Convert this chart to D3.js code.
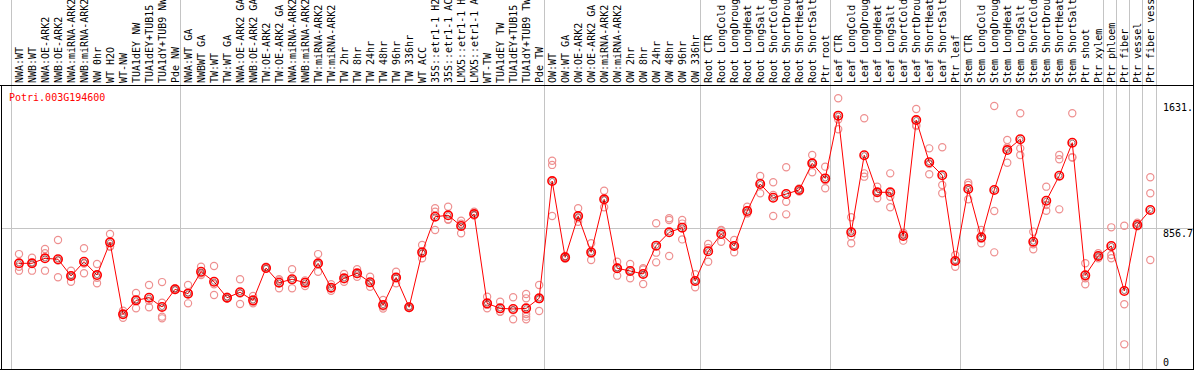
<!DOCTYPE html>
<meta charset="utf-8">
<head>
    <title>Potri.003G194600 expression</title>
    <script src="https://d3js.org/d3.v7.min.js"></script>
    <style>
        body { margin: 0; background: #fff; }
        svg { display: block; }
        text { font-family: "DejaVu Sans Mono", monospace; font-size: 10px; }
    </style>
</head>

<body>
    <div id="svg-container"></div>
</body>

<script>

const width = 1194;
const height = 370;

const geneName = "Potri.003G194600";

const labels = [
    "NWA:WT", "NWB:WT", "NWA:OE-ARK2", "NWB:OE-ARK2", "NWA:miRNA-ARK2", "NWB:miRNA-ARK2",
    "NW 0hr", "WT H2O", "WT-NW", "TUA1dEY NW", "TUA1dEY+TUB15 NW", "TUA1dY+TUB9 NW", "Pde NW",
    "NWA:WT GA", "NWBWT GA", "TW:WT", "TW:WT GA", "NWA:OE-ARK2 GA", "NWB:OE-ARK2 GA",
    "TW:OE-ARK2", "TW:OE-ARK2 GA", "NWA:miRNA-ARK2", "NWB:miRNA-ARK2", "TW:miRNA-ARK2",
    "TW:miRNA-ARK2", "TW 2hr", "TW 8hr", "TW 24hr", "TW 48hr", "TW 96hr", "TW 336hr", "WT ACC",
    "35S::etr1-1 H2O", "35S::etr1-1 ACC", "LMX5::etr1-1 H2O", "LMX5::etr1-1 ACC", "WT-TW",
    "TUA1dEY TW", "TUA1dEY+TUB15 TW", "TUA1dY+TUB9 TW", "Pde TW",
    "OW:WT", "OW:WT GA", "OW:OE-ARK2", "OW:OE-ARK2 GA", "OW:miRNA-ARK2", "OW:miRNA-ARK2",
    "OW 2hr", "OW 8hr", "OW 24hr", "OW 48hr", "OW 96hr", "OW 336hr",
    "Root CTR", "Root LongCold", "Root LongDrought", "Root LongHeat", "Root LongSalt",
    "Root ShortCold", "Root ShortDrought", "Root ShortHeat", "Root ShortSalt", "Ptr root",
    "Leaf CTR", "Leaf LongCold", "Leaf LongDrought", "Leaf LongHeat", "Leaf LongSalt",
    "Leaf ShortCold", "Leaf ShortDrought", "Leaf ShortHeat", "Leaf ShortSalt", "Ptr leaf",
    "Stem CTR", "Stem LongCold", "Stem LongDrought", "Stem LongHeat", "Stem LongSalt",
    "Stem ShortCold", "Stem ShortDrought", "Stem ShortHeat", "Stem ShortSalt", "Ptr shoot",
    "Ptr xylem", "Ptr phloem", "Ptr fiber", "Ptr vessel", "Ptr fiber vessel"
];

// first sample index of each group, last entry closes the final group
const groupStarts = [0, 13, 41, 53, 63, 73, 84, 85, 86, 87, 88];

const means = [
    631, 631, 663, 657, 550, 641, 556, 765, 305, 394, 411, 352, 465,
    437, 577, 513, 411, 446, 394, 601, 507, 529, 507, 631, 475, 535, 567, 510, 364, 540,
    350, 701, 929, 938, 870, 946, 375, 343, 339, 343, 407,
    1157, 669, 933, 701, 1040, 599, 582, 563, 744, 829, 859, 518,
    708, 818, 742, 965, 1138, 1050, 1074, 1100, 1270, 1174,
    1575, 829, 1322, 1085, 1085, 806, 1547, 1277, 1194, 646,
    1106, 797, 1100, 1355, 1424, 769, 1031, 1191, 1402, 554, 678,
    742, 454, 876, 972
];

const replicates = [
    [690, 609, 584], [667, 584, 633], [722, 695, 584], [780, 542, 649], [584, 513, 553],
    [727, 567, 629], [627, 503, 538], [818, 737, 740], [328, 283, 304], [441, 343, 398],
    [492, 350, 391], [511, 379, 290, 279], [460, 465, 470],
    [492, 375, 444], [609, 556, 566], [614, 428, 497], [405, 411, 418], [529, 371, 438],
    [422, 375, 385], [609, 597, 597], [529, 471, 521], [593, 471, 523], [513, 486, 522],
    [690, 577, 626], [497, 456, 472], [563, 513, 529], [593, 545, 563], [545, 481, 504],
    [396, 354, 342], [577, 503, 540], [345, 350, 355], [748, 663, 692], [983, 961, 844],
    [993, 912, 909], [903, 823, 884], [961, 940, 937], [417, 343, 365], [386, 322, 321],
    [414, 273, 330], [435, 407, 307, 290, 273], [492, 326, 403],
    [1287, 1260, 933], [660, 669, 678], [983, 897, 919], [759, 652, 692], [1095, 989, 1036],
    [641, 552, 604], [627, 535, 584], [599, 499, 591], [887, 699, 637], [919, 908, 678],
    [908, 784, 885], [561, 478, 515],
    [754, 641, 729], [844, 769, 841], [780, 701, 745], [993, 950, 952], [1189, 1079, 1146],
    [1149, 933, 1068], [1245, 1025, 944], [1090, 1100, 1110], [1323, 1213, 1274], [1249, 1111, 1162],
    [1686, 1488, 1551], [925, 759, 803], [1558, 1206, 1185], [1121, 1047, 1087], [1206, 1057, 989],
    [776, 815, 827], [1618, 1515, 1508], [1366, 1200, 1265], [1373, 1132, 1079], [684, 609, 645],
    [1146, 1040, 1132], [844, 759, 788], [1637, 965, 701], [1419, 1274, 1372], [1590, 1366, 1323],
    [833, 721, 753], [1121, 1004, 967], [1323, 1296, 976], [1590, 1309, 1307], [631, 535, 497],
    [695, 663, 676], [861, 684, 663], [871, 369, 113], [891, 870, 867], [1181, 1079, 652]
];

const tickValues = [0, 856.7, 1631];
const tickLabels = ["0", "856.7", "1631."];

const svg = d3.select("#svg-container")
              .append("svg")
                .attr("width", width)
                .attr("height", height);

const x = d3.scaleLinear().domain([0, labels.length - 1]).range([19, 1150.3]);
const y = d3.scaleLinear().domain([0, 1771]).range([362, 85]);

const crisp = function(v) { return Math.round(v) + 0.5; };

// group separators
svg.append("g")
    .selectAll("line")
    .data(groupStarts).enter()
    .append("line")
        .attr("x1", function(d) { return crisp(x(d - 0.6)); })
        .attr("x2", function(d) { return crisp(x(d - 0.6)); })
        .attr("y1", 0)
        .attr("y2", 369)
        .attr("stroke", "#c4c4c4");

// middle horizontal grid line
svg.append("line")
    .attr("x1", 1).attr("x2", width)
    .attr("y1", crisp(y(tickValues[1]))).attr("y2", crisp(y(tickValues[1])))
    .attr("stroke", "#c4c4c4");

// frame
svg.append("line").attr("x1", 0).attr("x2", width).attr("y1", 85.5).attr("y2", 85.5).attr("stroke", "#000");
svg.append("line").attr("x1", 0).attr("x2", width).attr("y1", 369.5).attr("y2", 369.5).attr("stroke", "#000");
svg.append("line").attr("x1", 1.5).attr("x2", 1.5).attr("y1", 85).attr("y2", 370).attr("stroke", "#000");
svg.append("line").attr("x1", 1193.5).attr("x2", 1193.5).attr("y1", 0).attr("y2", 370).attr("stroke", "#000");

// sample labels
svg.append("g")
    .selectAll("text")
    .data(labels).enter()
    .append("text")
        .attr("transform", function(d, i) { return `translate(${x(i) + 3.6},83) rotate(-90)`; })
        .attr("fill", "#000")
        .text(function(d) { return d; });

// title
svg.append("text")
    .attr("x", 9)
    .attr("y", 100.7)
    .attr("fill", "#ff0000")
    .text(geneName);

// value labels on the right
svg.append("g")
    .selectAll("text")
    .data(tickValues).enter()
    .append("text")
        .attr("x", 1163)
        .attr("y", function(d, i) { return i === 1 ? y(d) + 8.7 : y(d) + 4; })
        .attr("fill", "#000")
        .text(function(d, i) { return tickLabels[i]; });

// replicate points
const repPoints = [];
replicates.forEach(function(vals, i) {
    vals.forEach(function(v) { repPoints.push({ i: i, v: v }); });
});

svg.append("g")
    .selectAll("circle")
    .data(repPoints).enter()
    .append("circle")
        .attr("cx", function(d) { return x(d.i); })
        .attr("cy", function(d) { return y(d.v); })
        .attr("r", 3.6)
        .attr("fill", "none")
        .attr("stroke", "#ee9090")
        .attr("stroke-width", 1.2);

// mean line
const line = d3.line()
               .x(function(d, i) { return x(i); })
               .y(function(d) { return y(d); });

svg.append("path")
    .datum(means)
    .attr("d", line)
    .attr("fill", "none")
    .attr("stroke", "#ff0000")
    .attr("stroke-width", 1);

// mean markers
const meanNodes = svg.append("g")
                     .selectAll("g")
                     .data(means).enter()
                     .append("g")
                        .attr("transform", function(d, i) { return `translate(${x(i)},${y(d)})`; });

meanNodes.append("circle")
    .attr("r", 4.2)
    .attr("fill", "none")
    .attr("stroke", "#ff0000")
    .attr("stroke-width", 1.6);

meanNodes.append("circle")
    .attr("r", 2.6)
    .attr("fill", "none")
    .attr("stroke", "#400000")
    .attr("stroke-width", 0.5);

</script>
